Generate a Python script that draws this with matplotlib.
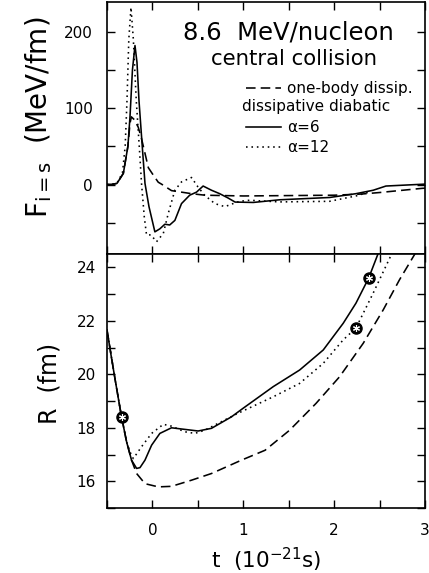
import matplotlib
matplotlib.use("Agg")
import matplotlib.pyplot as plt
import numpy as np

# force on the relative coordinate, top panel (t in 1e-21 s, F in MeV/fm)
t_F_onebody = [-0.5, -0.45, -0.39, -0.32, -0.27, -0.247, -0.232, -0.20, -0.156, -0.12, -0.09, -0.045,
               0.0, 0.064, 0.10, 0.21, 0.43, 0.577, 1.0, 1.5, 2.0, 2.3, 2.5, 2.97, 3.0]
F_onebody = [0, 0, 1.5, 14.6, 50, 80, 88.6, 85, 75, 60, 45, 22,
             14, 3, 0.5, -8, -12, -14, -15, -14.5, -14, -12.5, -10.5, -5, -4.8]

t_F_a6 = [-0.5, -0.45, -0.39, -0.32, -0.27, -0.247, -0.22, -0.192, -0.17, -0.148, -0.112, -0.082,
          -0.038, 0.027, 0.082, 0.137, 0.19, 0.247, 0.32, 0.41, 0.485, 0.558, 0.65, 0.74,
          0.83, 0.91, 1.11, 1.40, 1.95, 2.24, 2.43, 2.57, 2.98, 3.0]
F_a6 = [0, 0, 1.5, 14.6, 50, 88.6, 150, 182, 160, 110, 50, 1.5,
        -29, -62, -58, -52, -53, -47, -25, -14, -10, -2, -7.5, -12,
        -17.5, -23, -23.5, -20, -17, -12, -7.5, -2, 0.4, 0.5]

t_F_a12 = [-0.5, -0.45, -0.39, -0.33, -0.30, -0.28, -0.26, -0.236, -0.21, -0.178, -0.145, -0.12,
           -0.09, -0.065, -0.016, 0.045, 0.12, 0.174, 0.247, 0.32, 0.43, 0.50, 0.574, 0.687,
           0.797, 0.888, 0.96, 1.07, 1.40, 1.95, 2.24, 2.39]
F_a12 = [0, 0, 2, 15, 50, 110, 190, 232, 190, 110, 50, 1.5,
         -42, -66, -66, -75, -64, -38, -7.5, 3.4, 9.2, -3, -14, -25,
         -29, -25, -22, -20.6, -22.8, -22, -15, -9.7]

# distance between the nuclei, bottom panel (R in fm)
t_R_onebody = [-0.5, -0.41, -0.34, -0.284, -0.23, -0.174, -0.082, 0.064, 0.21, 0.43, 0.65, 0.98,
               1.24, 1.51, 1.80, 2.06, 2.32, 2.54, 2.72, 2.885, 2.92]
R_onebody = [21.66, 19.79, 18.41, 17.47, 16.79, 16.29, 15.91, 15.79, 15.81, 16.04, 16.29, 16.79,
             17.16, 17.91, 18.91, 19.91, 21.16, 22.41, 23.54, 24.48, 24.7]

t_R_a6 = [-0.5, -0.45, -0.41, -0.37, -0.34, -0.284, -0.23, -0.174, -0.137, -0.082, -0.009, 0.082,
          0.21, 0.357, 0.503, 0.65, 0.87, 0.998, 1.33, 1.62, 1.88, 2.10, 2.24, 2.38, 2.48, 2.50]
R_a6 = [21.66, 20.6, 19.79, 19.0, 18.41, 17.47, 16.79, 16.48, 16.51, 16.79, 17.35, 17.79,
        18.0, 17.94, 17.88, 17.98, 18.41, 18.73, 19.54, 20.16, 20.91, 21.91, 22.66, 23.6, 24.48, 24.7]

t_R_a12 = [-0.5, -0.41, -0.34, -0.284, -0.23, -0.21, -0.12, -0.009, 0.12, 0.21, 0.357, 0.467,
           0.577, 0.72, 0.94, 1.33, 1.62, 1.88, 2.10, 2.24, 2.43, 2.63, 2.66]
R_a12 = [21.66, 19.79, 18.41, 17.47, 16.95, 16.85, 17.29, 17.79, 18.13, 18.06, 17.85, 17.79,
         17.91, 18.16, 18.54, 19.16, 19.66, 20.41, 21.29, 21.73, 23.04, 24.48, 24.7]

# marked points on the trajectories
t_marks = [-0.34, 2.38, 2.24]
R_marks = [18.41, 23.6, 21.73]

x_ticks = np.arange(-0.5, 3.01, 0.5)
x_labels = ["" if v != int(v) else "%d" % v for v in x_ticks]
F_ticks = np.arange(-50, 201, 50)
F_labels = ["%d" % v if v % 100 == 0 else "" for v in F_ticks]
R_ticks = np.arange(15, 25, 1)
R_labels = ["%d" % v if v % 2 == 0 else "" for v in R_ticks]

lw = 1.15
dashed = (0, (6, 3.2))
dotted = (0, (1, 2.4))

fig = plt.figure(figsize=(4.29, 5.73), dpi=100)
ax1 = fig.add_axes([107/429, 319/573, 318/429, 252/573])
ax2 = fig.add_axes([107/429, 65/573, 318/429, 254/573])

for ax in (ax1, ax2):
    for s in ax.spines.values():
        s.set_linewidth(1.2)
    ax.tick_params(direction="in", length=5.5, width=1.0, top=True, right=True,
                   labelsize=11, pad=8)
    ax.set_xlim(-0.5, 3)
    ax.set_xticks(x_ticks)

# top panel
ax1.plot(t_F_onebody, F_onebody, color="k", lw=lw, linestyle=dashed)
ax1.plot(t_F_a6, F_a6, color="k", lw=lw)
ax1.plot(t_F_a12, F_a12, color="k", lw=lw, linestyle=dotted)
ax1.set_ylim(-91, 239)
ax1.set_yticks(F_ticks)
ax1.set_yticklabels(F_labels)
ax1.set_xticklabels([])
ax1.tick_params(axis="y", pad=10)

fig.text(288/429, 1 - 40/573, "8.6  MeV/nucleon", fontsize=17.5, ha="center", va="baseline")
fig.text(294/429, 1 - 65/573, "central collision", fontsize=15.3, ha="center", va="baseline")

# hand made legend
def legend_row(y_px, style, label):
    y = (254 - y_px) / 252
    ax1.plot([(246 - 107)/318, (281 - 107)/318], [y, y], transform=ax1.transAxes,
             color="k", lw=lw, linestyle=style)
    ax1.text((287 - 107)/318, y, label, transform=ax1.transAxes, fontsize=11,
             ha="left", va="center")

legend_row(88, dashed, "one-body dissip.")
ax1.text((242 - 107)/318, (254 - 107)/252, "dissipative diabatic", transform=ax1.transAxes,
         fontsize=11, ha="left", va="center")
legend_row(127, "-", "α=6")
legend_row(147, dotted, "α=12")

fig.text(39/429, 1 - 117/573, r"F$_{\rm i=s}$  (MeV/fm)", fontsize=20, rotation=90,
         ha="center", va="center")

# bottom panel
ax2.plot(t_R_onebody, R_onebody, color="k", lw=lw, linestyle=dashed)
ax2.plot(t_R_a6, R_a6, color="k", lw=lw)
ax2.plot(t_R_a12, R_a12, color="k", lw=lw, linestyle=dotted)
ax2.plot(t_marks, R_marks, "o", color="k", markersize=8, zorder=5)
ax2.plot(t_marks, R_marks, marker=(6, 2, 0), linestyle="none", color="white",
         markersize=5, markeredgewidth=0.8, zorder=6)
ax2.set_ylim(15, 24.5)
ax2.set_yticks(R_ticks)
ax2.set_yticklabels(R_labels)
ax2.set_xticklabels(x_labels)
ax2.tick_params(axis="x", pad=11)

fig.text(50/429, 1 - 383/573, "R  (fm)", fontsize=17, rotation=90, ha="center", va="center")
fig.text(266/429, 1 - 560/573, r"t  (10$^{-21}$s)", fontsize=15.5, ha="center", va="center")

fig.savefig("out.png", dpi=100)
